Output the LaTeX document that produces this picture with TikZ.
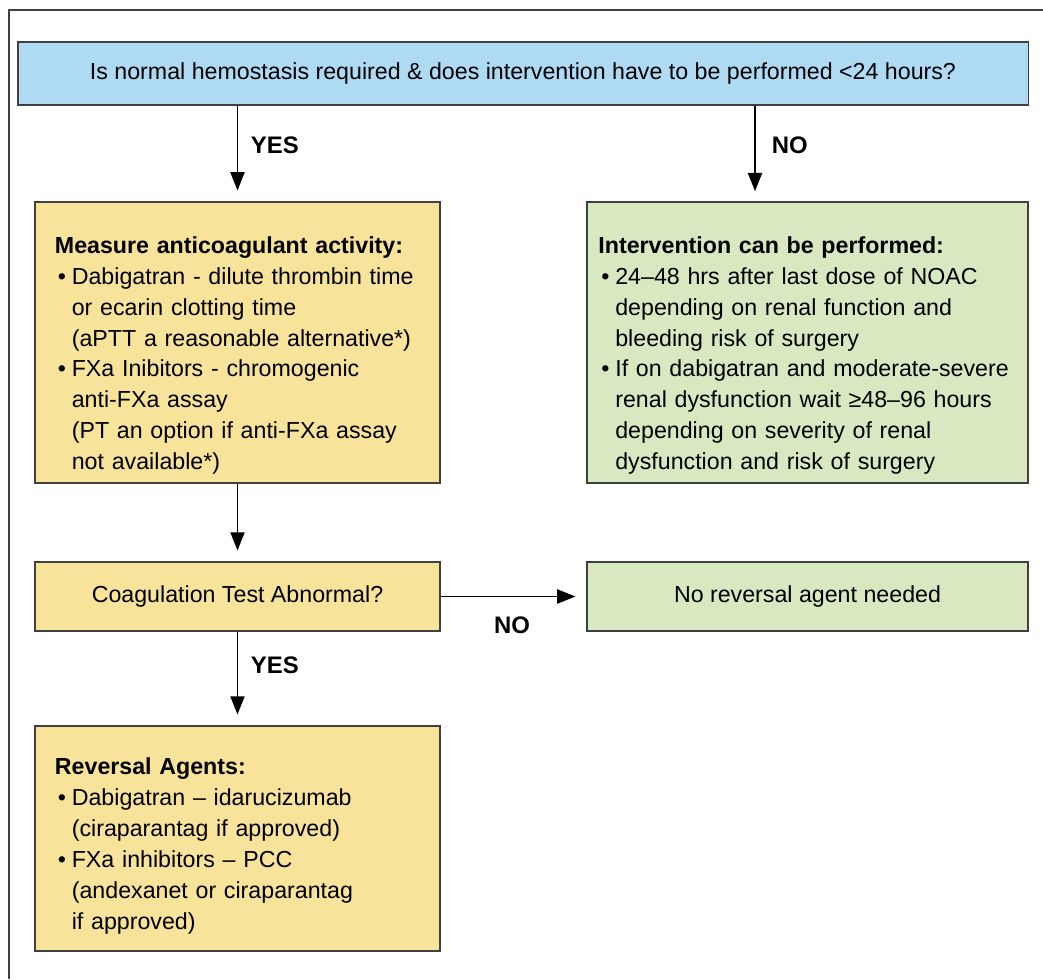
\documentclass[tikz,border=0pt]{standalone}
\usepackage{fontspec}
\setmainfont{Liberation Sans}
\usetikzlibrary{arrows.meta,positioning}
\definecolor{qblue}{RGB}{174,219,243}
\definecolor{ayellow}{RGB}{248,227,154}
\definecolor{agreen}{RGB}{216,233,194}
\newcommand{\bul}{\makebox[12pt][l]{\hspace{2pt}\textbullet}}
\newcommand{\ind}{\hspace*{12pt}}

\begin{document}
\begin{tikzpicture}[x=0.025cm,y=-0.025cm,>={Triangle[length=13pt,width=10pt]},
    box/.style={draw=black!75,line width=0.9pt,inner sep=0pt},
    txt/.style={box,align=left,font=\fontsize{16.5}{22}\selectfont},
    lbl/.style={font=\fontsize{17}{20}\selectfont\bfseries},
    arr/.style={->,line width=1.3pt,shorten >=0.27cm}]
  \useasboundingbox (0,0) rectangle (1043,979);
  % frame
  \draw[black!75,line width=1.3pt] (9,979) -- (9,10) -- (1043,10);

  \node[box,fill=qblue,minimum width=25.25cm,minimum height=1.575cm,
    font=\fontsize{16.5}{20}\selectfont] (q) at (523,73.5)
    {Is normal hemostasis required \& does intervention have to be performed <24 hours?};
  \node[txt,fill=ayellow,minimum width=10.125cm,minimum height=7.025cm,
    text width=9.125cm] (m) at (237.5,342.5)
    {\rule{0pt}{1.07cm}\textbf{Measure anticoagulant activity:}\\
     \bul Dabigatran - dilute thrombin time\\
     \ind or ecarin clotting time\\
     \ind (aPTT a reasonable alternative*)\\
     \bul FXa Inibitors - chromogenic\\
     \ind anti-FXa assay\\
     \ind (PT an option if anti-FXa assay\\
     \ind not available*)};
  \node[txt,fill=agreen,minimum width=11.025cm,minimum height=7.025cm,
    text width=10.45cm] (ip) at (807.5,342.5)
    {\rule{0pt}{1.07cm}\textbf{Intervention can be performed:}\\
     \bul 24–48 hrs after last dose of NOAC\\
     \ind depending on renal function and\\
     \ind bleeding risk of surgery\\
     \bul If on dabigatran and moderate-severe\\
     \ind renal dysfunction wait ≥48–96 hours\\
     \ind depending on severity of renal\\
     \ind dysfunction and risk of surgery};
  \node[txt,fill=ayellow,minimum width=10.125cm,minimum height=1.725cm,
    align=center] (c) at (237.5,596.5) {Coagulation Test Abnormal?};
  \node[txt,fill=agreen,minimum width=11.025cm,minimum height=1.725cm,
    align=center] (nr) at (807.5,596.5) {No reversal agent needed};
  \node[txt,fill=ayellow,minimum width=10.125cm,minimum height=5.625cm,
    text width=9.125cm] (r) at (237.5,838.5)
    {\rule{0pt}{0.78cm}\textbf{Reversal Agents:}\\
     \bul Dabigatran – idarucizumab\\
     \ind (ciraparantag if approved)\\
     \bul FXa inhibitors – PCC\\
     \ind (andexanet or ciraparantag\\
     \ind if approved)};

  \coordinate (noend) at (755,202);
  \draw[arr] (q.south -| m.north) -- (m.north);
  \draw[arr] (q.south -| noend) -- (noend);
  \draw[arr] (m.south) -- (c.north);
  \draw[arr] (c.east) -- (nr.west);
  \draw[arr] (c.south) -- (r.north);

  \node[lbl,anchor=west] (y1) at (246,145) {YES};
  \node[lbl,anchor=west] (n1) at (767,145) {NO};
  \node[lbl] (n2) at (512,625) {NO};
  \node[lbl,anchor=west] (y2) at (246,665) {YES};
\end{tikzpicture}
\end{document}
